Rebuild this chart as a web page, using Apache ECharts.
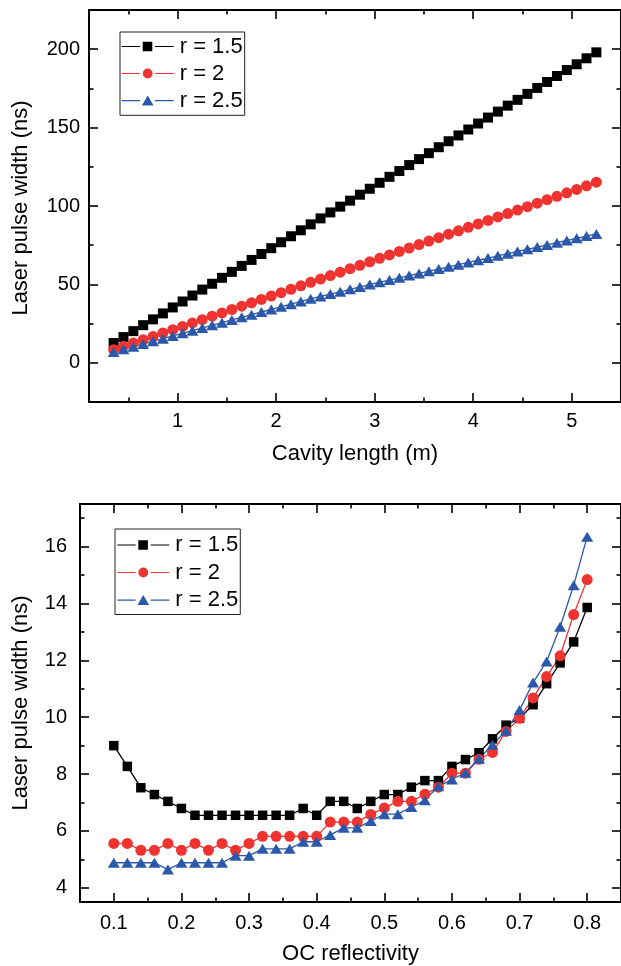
<!DOCTYPE html>
<html>
<head>
<meta charset="utf-8">
<script src="https://cdn.jsdelivr.net/npm/echarts@6/dist/echarts.min.js"></script>
<style>
html,body{margin:0;padding:0;background:#ffffff;}
#chart{width:621px;height:966px;}
</style>
</head>
<body>
<div id="chart"></div>
<script>
// ---------- DATA ----------
const seriesNames = ['r = 1.5', 'r = 2', 'r = 2.5'];
const topXName = 'Cavity length (m)';
const botXName = 'OC reflectivity';
const yName = 'Laser pulse width (ns)';

// Top panel: cavity length (m) vs laser pulse width (ns)
const cavityLength = [0.35,0.45,0.55,0.65,0.75,0.85,0.95,1.05,1.15,1.25,1.35,1.45,1.55,1.65,1.75,1.85,1.95,2.05,2.15,2.25,2.35,2.45,2.55,2.65,2.75,2.85,2.95,3.05,3.15,3.25,3.35,3.45,3.55,3.65,3.75,3.85,3.95,4.05,4.15,4.25,4.35,4.45,4.55,4.65,4.75,4.85,4.95,5.05,5.15,5.25];
const widthLenR15 = [12.6,16.4,20.2,24.0,27.7,31.5,35.3,39.1,42.9,46.7,50.4,54.2,58.0,61.8,65.6,69.4,73.1,76.9,80.7,84.5,88.3,92.1,95.9,99.6,103.4,107.2,111.0,114.8,118.6,122.3,126.1,129.9,133.7,137.5,141.3,145.0,148.8,152.6,156.4,160.2,164.0,167.7,171.5,175.3,179.1,182.9,186.7,190.4,194.2,198.0];
const widthLenR2 = [8.4,10.5,12.6,14.7,16.8,19.0,21.1,23.2,25.4,27.5,29.7,31.8,34.0,36.1,38.3,40.4,42.6,44.7,46.9,49.1,51.3,53.4,55.6,57.8,60.0,62.2,64.4,66.6,68.8,71.0,73.2,75.4,77.6,79.8,82.0,84.2,86.4,88.6,90.8,93.0,95.2,97.4,99.6,101.8,104.0,106.2,108.4,110.6,112.9,115.2];
const widthLenR25 = [6.9,8.6,10.3,12.0,13.7,15.4,17.1,18.8,20.5,22.2,23.9,25.6,27.3,29.0,30.7,32.4,34.0,35.7,37.4,39.1,40.8,42.3,43.8,45.3,46.9,48.4,49.9,51.4,52.8,54.2,55.6,57.0,58.4,59.8,61.2,62.6,64.0,65.4,66.8,68.2,69.6,71.0,72.4,73.8,75.2,76.6,78.0,79.4,80.8,82.2];

// Bottom panel: OC reflectivity vs laser pulse width (ns)
const ocReflectivity = [0.10,0.12,0.14,0.16,0.18,0.20,0.22,0.24,0.26,0.28,0.30,0.32,0.34,0.36,0.38,0.40,0.42,0.44,0.46,0.48,0.50,0.52,0.54,0.56,0.58,0.60,0.62,0.64,0.66,0.68,0.70,0.72,0.74,0.76,0.78,0.80];
const widthOcR15 = [9.00,8.27,7.52,7.28,7.04,6.79,6.55,6.55,6.55,6.55,6.55,6.55,6.55,6.55,6.79,6.55,7.04,7.04,6.79,7.04,7.28,7.28,7.54,7.77,7.77,8.27,8.51,8.75,9.24,9.72,9.96,10.44,11.18,11.91,12.65,13.86];
const widthOcR2 = [5.56,5.56,5.32,5.32,5.56,5.32,5.56,5.32,5.56,5.32,5.56,5.81,5.81,5.81,5.81,5.81,6.31,6.31,6.31,6.58,6.81,7.04,7.04,7.29,7.54,8.03,8.03,8.52,8.76,9.50,9.96,10.68,11.43,12.16,13.61,14.84];
const widthOcR25 = [4.88,4.88,4.88,4.88,4.64,4.88,4.88,4.88,4.88,5.13,5.13,5.37,5.37,5.37,5.62,5.62,5.86,6.11,6.11,6.35,6.59,6.59,6.84,7.08,7.57,7.81,8.05,8.54,9.03,9.52,10.25,11.22,11.96,13.18,14.64,16.35];

// Tick values
const topXMajor = [1, 2, 3, 4, 5];
const topXMinor = [0.5, 1.5, 2.5, 3.5, 4.5];
const topYMajor = [0, 50, 100, 150, 200];
const topYMinor = [25, 75, 125, 175];
const botXMajor = [0.1, 0.2, 0.3, 0.4, 0.5, 0.6, 0.7, 0.8];
const botXMinor = [0.15, 0.25, 0.35, 0.45, 0.55, 0.65, 0.75];
const botYMajor = [4, 6, 8, 10, 12, 14, 16];
const botYMinor = [5, 7, 9, 11, 13, 15, 17];

// ---------- STYLE ----------
const FONT = "'Liberation Sans', Arial, Helvetica, sans-serif";
const COLORS = ['#000000', '#EE3330', '#2B58A8'];
const SYMBOLS = ['rect', 'circle', 'triangle'];

function zip(xs, ys) { return xs.map((x, i) => [x, ys[i]]); }

function frameAxes(dim, gridIndex, min, max, major, minor, mainOpts) {
  const pos = dim === 'x' ? ['bottom', 'top'] : ['left', 'right'];
  const axes = [];
  pos.forEach((p, pi) => {
    [true, false].forEach(isMajor => {
      const main = (pi === 0 && isMajor);
      const ax = {
        type: 'value', gridIndex: gridIndex, position: p, min: min, max: max,
        splitLine: { show: false },
        axisLine: { show: isMajor, onZero: false, lineStyle: { color: '#000', width: 2 } },
        axisTick: { show: true, inside: true, customValues: isMajor ? major : minor,
                    length: isMajor ? 9 : 4.5, lineStyle: { color: '#000', width: 1.6 } },
        axisLabel: { show: false },
        z: 5
      };
      if (main) {
        ax.axisLabel = Object.assign({ show: true, customValues: major, color: '#000',
          fontFamily: FONT, fontSize: 20 }, mainOpts.label);
        if (mainOpts.name) {
          ax.name = mainOpts.name;
          ax.nameLocation = 'middle';
          ax.nameGap = mainOpts.nameGap;
          ax.nameTextStyle = { color: '#000', fontFamily: FONT, fontSize: 22 };
        }
      }
      axes.push(ax);
    });
  });
  return axes;
}

const xAxes = [].concat(
  frameAxes('x', 0, 0.1, 5.5, topXMajor, topXMinor, { name: topXName, nameGap: 41, label: { margin: 9 } }),
  frameAxes('x', 1, 0.05, 0.85, botXMajor, botXMinor, { name: botXName, nameGap: 41, label: { margin: 11 } })
);
const yAxes = [].concat(
  frameAxes('y', 0, -25, 225, topYMajor, topYMinor, { label: { margin: 9 } }),
  frameAxes('y', 1, 3.5, 17.5, botYMajor, botYMinor, { label: { margin: 13 } })
);

const topData = [widthLenR15, widthLenR2, widthLenR25];
const botData = [widthOcR15, widthOcR2, widthOcR25];
const topSizes = [10, 11, [12, 10]];
const botSizes = [9.5, 11, [12, 10]];

const series = [];
topData.forEach((ys, i) => {
  series.push({
    type: 'line', name: seriesNames[i], xAxisIndex: 0, yAxisIndex: 0,
    data: zip(cavityLength, ys), symbol: SYMBOLS[i], symbolSize: topSizes[i],
    lineStyle: { color: COLORS[i], width: 1.3 },
    itemStyle: { color: COLORS[i], borderWidth: 0 },
    animation: false, z: 3
  });
});
botData.forEach((ys, i) => {
  series.push({
    type: 'line', name: seriesNames[i], xAxisIndex: 4, yAxisIndex: 4,
    data: zip(ocReflectivity, ys), symbol: SYMBOLS[i], symbolSize: botSizes[i],
    lineStyle: { color: COLORS[i], width: 1.3 },
    itemStyle: { color: COLORS[i], borderWidth: 0 },
    animation: false, z: 3
  });
});

// legend icons: line - marker - line
const ICONS = [
  'path://M0,5.4H18.3V6.6H0Z M21,1.2H30.6V10.8H21Z M33.3,5.4H52V6.6H33.3Z',
  'path://M0,5.4H18.3V6.6H0Z M30.9,6A4.9,4.9 0 1 1 21.1,6A4.9,4.9 0 1 1 30.9,6Z M33.3,5.4H52V6.6H33.3Z',
  'path://M0,5.4H18.3V6.6H0Z M26,0.8L31.8,10.8L20.2,10.8Z M33.3,5.4H52V6.6H33.3Z'
];
function makeLegend(left, top, padding, gap) {
  return {
    orient: 'vertical', left: left, top: top, padding: padding, itemGap: gap,
    itemWidth: 52, itemHeight: 12, borderColor: '#222', borderWidth: 1,
    backgroundColor: '#fff', selectedMode: false,
    itemStyle: { borderWidth: 0 },
    textStyle: { color: '#000', fontFamily: FONT, fontSize: 22, lineHeight: 22, padding: [0, 0, 0, 1] },
    data: seriesNames.map((n, i) => ({ name: n, icon: ICONS[i] }))
  };
}

// rotated y-axis titles as graphic text
function yTitle(cx, cy) {
  return {
    type: 'text', x: cx, y: cy, rotation: Math.PI / 2, z: 10,
    style: { text: yName, fill: '#000', font: "22px " + FONT, align: 'center', verticalAlign: 'middle' }
  };
}

const option = {
  backgroundColor: '#ffffff',
  animation: false,
  grid: [
    { left: 89, top: 10, width: 534, height: 392, containLabel: false },
    { left: 80, top: 504, width: 542, height: 398, containLabel: false }
  ],
  xAxis: xAxes,
  yAxis: yAxes,
  legend: [
    makeLegend(120, 32, [3.5, 2, 3.8, 1.7], 5),
    makeLegend(115, 529, [5, 2, 3.5, 2.3], 5.5)
  ],
  graphic: [ yTitle(21, 208), yTitle(21, 703) ],
  series: series
};

const chart = echarts.init(document.getElementById('chart'), null, { renderer: 'canvas', width: 621, height: 966 });
chart.setOption(option);
</script>
</body>
</html>
